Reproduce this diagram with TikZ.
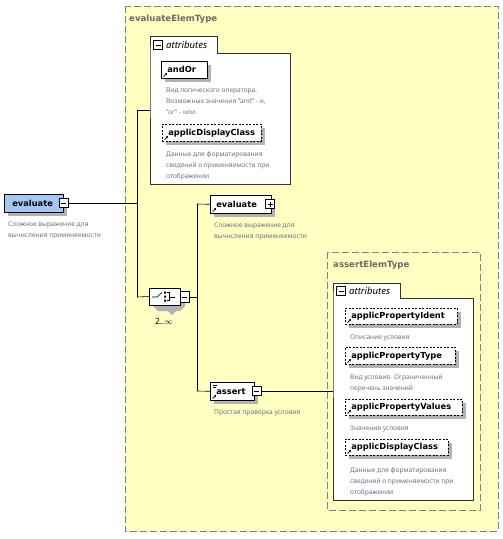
\documentclass[tikz,border=0pt]{standalone}
\usepackage{fontspec}
\setmainfont{Noto Sans}
\newfontfamily\lblfont{DejaVu Sans}
\usetikzlibrary{arrows.meta,calc,shapes.misc}
\definecolor{yel}{RGB}{255,255,194}
\definecolor{dsc}{RGB}{105,116,136}
\definecolor{rootblue}{RGB}{164,198,240}
\definecolor{shd}{RGB}{178,178,178}
\definecolor{ttl}{RGB}{105,105,105}
\definecolor{bord}{RGB}{128,128,128}
\begin{document}
\begin{tikzpicture}[x=1pt,y=-1pt,
  shadowed/.style={preaction={fill=shd, draw=none, transform canvas={xshift=4pt, yshift=-4pt}}},
  elem/.style={shadowed, draw=black, fill=white, line width=0.6pt, minimum height=17pt, inner xsep=0pt, inner ysep=0pt,
    anchor=north west, align=left, font=\lblfont\fontsize{8.3}{9}\selectfont\bfseries},
  attrel/.style={elem, dashed, dash pattern=on 2pt off 1.5pt},
  desc/.style={anchor=north west, inner sep=0pt, align=left, text=dsc, font=\fontsize{6.6}{11}\selectfont},
  ttlstyle/.style={anchor=west, inner sep=0pt, text=ttl, font=\lblfont\fontsize{8.6}{9}\selectfont\bfseries},
  group/.style={draw=bord, dashed, dash pattern=on 7pt off 3pt, line width=0.6pt},
  attrbox/.style={draw=black!80, fill=white, line width=0.6pt},
  pmbox/.style={draw=black, fill=white, line width=0.5pt, minimum width=9pt, minimum height=9pt, inner sep=0pt},
  minusbox/.style={pmbox, path picture={\draw[line width=0.5pt] ([xshift=2pt]path picture bounding box.west) -- ([xshift=-2pt]path picture bounding box.east);}},
  plusbox/.style={pmbox, path picture={\draw[line width=0.5pt] ([xshift=2pt]path picture bounding box.west) -- ([xshift=-2pt]path picture bounding box.east) ([yshift=-2pt]path picture bounding box.north) -- ([yshift=2pt]path picture bounding box.south);}},
  conn/.style={draw=black, line width=0.6pt},
  refarrow/.style={-{Stealth[length=2pt,width=2.5pt]}, line width=0.7pt},
  attrtext/.style={anchor=west, inner sep=0pt, font=\fontsize{9.5}{10}\selectfont\itshape}
]
\useasboundingbox (0,0) rectangle (503,539);
\fill[white] (0,0) rectangle (503,539);

% outer group
\filldraw[group, fill=yel] (125,6) rectangle (498,531);
\node[ttlstyle] (t1) at (129,19) {evaluateElemType};

% attributes box 1
\draw[attrbox] (150,53) -- (150,36) -- (217,36) -- (217,53) -- (290,53) -- (290,184) -- (150,184) -- cycle;
\node[minusbox] (am1) at (158,45) {};
\node[attrtext] (at1) at (166,45) {attributes};
\coordinate (a1in) at (150,110);

\node[elem, text width=46pt] (andor) at (161,61) {\hspace*{6pt}andOr};
\node[desc] (dandor) at (166,88) {Вид логического оператора.\\Возможные значения "and" - и,\\"or" - или.};
\node[attrel, text width=99pt] (adc1) at (162,124) {\hspace*{6pt}applicDisplayClass};
\node[desc] (dadc1) at (166,151) {Данные для форматирования\\сведений о применяемости при\\отображении};

% root
\node[elem, fill=rootblue, text width=59pt, minimum height=18pt] (root) at (4,194) {\hspace*{8pt}evaluate};
\node[minusbox] (rootm) at (63.5,203) {};
\node[desc] (droot) at (8,222) {Сложное выражение для\\вычисления применяемости};

% choice compositor
\path[fill=shd] (153,293) -- (158,293) -- (178,293) -- (185,300) -- (185,306) -- (180,311) -- (176,311) -- (172,315) -- (168,311) -- (158,311) -- (153,306) -- cycle;
\node[chamfered rectangle, chamfered rectangle xsep=5pt, chamfered rectangle ysep=5pt, draw=black, fill=white, line width=0.6pt,
  minimum width=31pt, minimum height=17pt, inner sep=0pt] (ch) at (164.5,296.5) {};
\node[minusbox, minimum width=9pt, minimum height=11pt] (chm) at (184.5,297) {};
\node[anchor=center, inner sep=0pt, font=\fontsize{8.5}{9}\selectfont] (mult) at (164,321) {2..$\infty$};
\draw[line width=0.6pt] (152,297) -- (157,297) -- (162,292.5);
\fill (164,291.5) rectangle (166,293.5) (164,295.5) rectangle (166,297.5) (164,299.5) rectangle (166,301.5);
\draw[line width=0.6pt] (167,292.5) -- (169,292.5) -- (169,300.5) -- (167,300.5) (169,297) -- (175,297);

% child evaluate
\node[elem, text width=61pt, minimum height=18pt] (ev2) at (210,195) {\hspace*{6pt}evaluate};
\node[plusbox] (ev2p) at (270,204) {};
\node[desc] (dev2) at (214,223) {Сложное выражение для\\вычисления применяемости};

% assert
\node[elem, text width=44pt, minimum height=18pt] (as) at (210,382) {\hspace*{6pt}assert};
\node[minusbox] (asm) at (256.5,391) {};
\node[desc] (das) at (214,410) {Простая проверка условия};
\draw[line width=0.6pt] (213,385) -- (217,385) (213,387.5) -- (216,387.5);

% assertElemType group
\draw[group] (327,252) rectangle (480,510);
\node[ttlstyle] (t2) at (333,265) {assertElemType};
\draw[attrbox] (333,298) -- (333,283) -- (400,283) -- (400,298) -- (473,298) -- (473,500) -- (333,500) -- cycle;
\node[minusbox] (am2) at (341,291) {};
\node[attrtext] (at2) at (349,291) {attributes};
\coordinate (a2in) at (333,391);

\node[attrel, text width=112pt, minimum height=16pt] (api) at (345,308) {\hspace*{6pt}applicPropertyIdent};
\node[desc] (dapi) at (350,335) {Описание условия};
\node[attrel, text width=110pt] (apt) at (345,347) {\hspace*{6pt}applicPropertyType};
\node[desc] (dapt) at (350,374) {Вид условия. Ограниченный\\перечень значений};
\node[attrel, text width=117pt, minimum height=16pt] (apv) at (345,399) {\hspace*{6pt}applicPropertyValues};
\node[desc] (dapv) at (350,426) {Значения условия};
\node[attrel, text width=103pt, minimum height=16pt] (adc2) at (345,439) {\hspace*{6pt}applicDisplayClass};
\node[desc] (dadc2) at (350,467) {Данные для форматирования\\сведений о применяемости при\\отображении};

% reference arrows
\foreach \n in {andor,adc1,ev2,as,api,apt,apv,adc2}{
  \draw[refarrow] ([shift={(2.5,-2)}]\n.south west) -- ++(3.5,-3.5);
}

% connectors
\coordinate (j1) at (137,203);
\coordinate (j1t) at (137,110);
\coordinate (j1b) at (137,297);
\draw[conn] (rootm.east) -- (j1);
\draw[conn] (j1t) -- (j1b);
\draw[conn] (j1t) -- (a1in);
\draw[conn] (j1b) -- (ch.west);
\coordinate (j2) at (197,297);
\coordinate (j2t) at (197,204);
\coordinate (j2b) at (197,391);
\draw[conn] (chm.east) -- (j2);
\draw[conn] (j2t) -- (j2b);
\draw[conn] (j2t) -- (ev2.west);
\draw[conn] (j2b) -- (as.west);
\draw[conn] (asm.east) -- (a2in);
\end{tikzpicture}
\end{document}
